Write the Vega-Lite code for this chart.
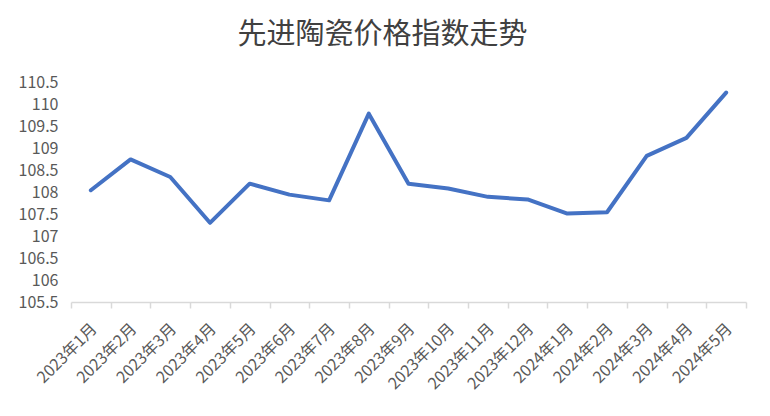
{
  "$schema": "https://vega.github.io/schema/vega-lite/v6.json",
  "autosize": "none",
  "width": 675,
  "height": 220,
  "padding": {"left": 71, "top": 82, "right": 24, "bottom": 114},
  "background": "#ffffff",
  "title": {
    "text": "先进陶瓷价格指数走势",
    "font": "Noto Sans CJK SC",
    "fontSize": 29,
    "fontWeight": "normal",
    "color": "#404040",
    "anchor": "middle",
    "dx": -26,
    "offset": 24
  },
  "data": {
    "values": [
      {"month": "2023年1月", "index": 108.04},
      {"month": "2023年2月", "index": 108.74},
      {"month": "2023年3月", "index": 108.34},
      {"month": "2023年4月", "index": 107.3},
      {"month": "2023年5月", "index": 108.19},
      {"month": "2023年6月", "index": 107.94},
      {"month": "2023年7月", "index": 107.81},
      {"month": "2023年8月", "index": 109.78},
      {"month": "2023年9月", "index": 108.19},
      {"month": "2023年10月", "index": 108.08},
      {"month": "2023年11月", "index": 107.89},
      {"month": "2023年12月", "index": 107.83},
      {"month": "2024年1月", "index": 107.51},
      {"month": "2024年2月", "index": 107.54},
      {"month": "2024年3月", "index": 108.82},
      {"month": "2024年4月", "index": 109.23},
      {"month": "2024年5月", "index": 110.26}
    ]
  },
  "mark": {"type": "line", "color": "#4472C4", "strokeWidth": 4, "strokeJoin": "round", "strokeCap": "round"},
  "encoding": {
    "x": {
      "field": "month",
      "type": "ordinal",
      "sort": null,
      "scale": {"type": "band", "paddingInner": 0, "paddingOuter": 0},
      "axis": {
        "title": null,
        "tickBand": "extent",
        "domainColor": "#d9d9d9",
        "domainWidth": 1.5,
        "tickColor": "#d9d9d9",
        "tickWidth": 1.5,
        "tickSize": 6,
        "labelAngle": -45,
        "labelAlign": "right",
        "labelBaseline": "middle",
        "labelPadding": 18,
        "labelOffset": 3,
        "labelFont": "Noto Sans CJK SC",
        "labelFontSize": 16,
        "labelColor": "#595959",
        "grid": false
      }
    },
    "y": {
      "field": "index",
      "type": "quantitative",
      "scale": {"domain": [105.5, 110.5], "nice": false, "zero": false},
      "axis": {
        "title": null,
        "values": [105.5, 106, 106.5, 107, 107.5, 108, 108.5, 109, 109.5, 110, 110.5],
        "format": ".4~g",
        "domain": false,
        "ticks": false,
        "grid": false,
        "labelPadding": 13,
        "labelFont": "Noto Sans CJK SC",
        "labelFontSize": 16,
        "labelColor": "#595959"
      }
    }
  },
  "config": {"view": {"stroke": null}}
}
